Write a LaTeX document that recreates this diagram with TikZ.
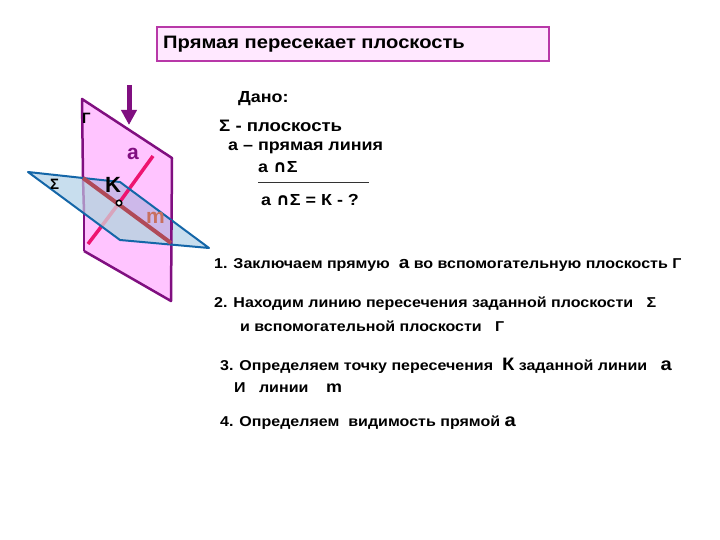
\documentclass[tikz,border=0pt]{standalone}
\usepackage{fontspec}
\setmainfont[FakeStretch=1.12]{Liberation Sans}
\newfontfamily\plainfont{Liberation Sans}
\newfontfamily\symfont{DejaVu Sans}
\usetikzlibrary{arrows.meta}
\definecolor{gpink}{HTML}{FFC4FF}
\definecolor{gedge}{HTML}{800F80}
\definecolor{sblue}{HTML}{C8DEEE}
\definecolor{sedge}{HTML}{1466A8}
\definecolor{sover}{HTML}{C4D0E6}
\definecolor{sback}{HTML}{CDB8EA}
\definecolor{mline}{HTML}{B04A58}
\definecolor{mtext}{HTML}{C87060}
\definecolor{aline}{HTML}{EE1470}
\definecolor{afade}{HTML}{D8A4BC}
\definecolor{titlefill}{HTML}{FFE8FF}
\definecolor{titleedge}{HTML}{B838A8}
\tikzset{x=1pt,y=-1pt,
 txt/.style={inner sep=0pt,anchor=base west,font=\fontsize{14.3}{16}\selectfont\bfseries,text=black},
 given/.style={txt,font=\fontsize{16}{18}\selectfont\bfseries},
 dlabel/.style={inner sep=0pt,anchor=base west,font=\plainfont\fontsize{21}{21}\selectfont\bfseries},
 planeedge/.style={line width=2.5pt,line join=round}}
\newcommand{\capm}{{\symfont\fontsize{17}{17}\selectfont ∩}}
\begin{document}
\begin{tikzpicture}
\useasboundingbox (0,0) rectangle (720,540);
\fill[white] (0,0) rectangle (720,540);
% coordinates
\coordinate (g1) at (82,99);
\coordinate (g2) at (172,158);
\coordinate (g3) at (171,301);
\coordinate (g4) at (84,251);
\coordinate (s1) at (28,172);
\coordinate (m1) at (83,178);
\coordinate (s2) at (120,182);
\coordinate (s3) at (209,248);
\coordinate (m2) at (171,243);
\coordinate (s4) at (120,240);
\coordinate (e1) at (84,213);
\coordinate (e2) at (171,220);
\coordinate (a1) at (153,156);
\coordinate (a2) at (88,244);
\coordinate (kk) at (119,203);
\coordinate (a3) at (101,227);
\coordinate (q1) at (129,85);
\coordinate (q2) at (129,125);
% title
\node[draw=titleedge,fill=titlefill,line width=2pt,minimum width=392pt,minimum height=34pt,inner sep=0pt,anchor=north west] (title) at (156,26) {};
\node[txt,font=\fontsize{18}{20}\selectfont\bfseries] (ttext) at (163,49) {Прямая пересекает плоскость};
% Gamma plane
\fill[gpink] (g1)--(g2)--(g3)--(g4)--cycle;
% Sigma plane
\fill[sblue] (s1)--(m1)--(s2)--(s3)--(s4)--cycle;
\fill[sback] (m1)--(s2)--(e2)--(m2)--cycle;
\fill[sover] (m1)--(m2)--(s4)--(e1)--cycle;
% Gamma edges
\draw[gedge,planeedge] (g4)--(g3)--(g2)--(g1)--(m1);
\draw[gedge!35!sover,line width=2.5pt] (m1)--(e1);
\draw[gedge,planeedge] (e1)--(g4);
% a line
\draw[aline,line width=3.5pt] (a1)--(kk);
\draw[afade,line width=3.5pt] (kk)--(a3);
\draw[aline,line width=3.5pt] (a3)--(a2);
% Sigma edges
\draw[sedge,line width=2pt,line join=round] (m1)--(s1)--(s4)--(s3)--(s2)--cycle;
\draw[gedge,line width=2.5pt] (e2)--(m2);
% m line
\draw[mline,line width=4pt] (m1)--(m2);
\node[draw=black,fill=white,circle,line width=1.5pt,minimum size=5.5pt,inner sep=0pt] (kpt) at (kk) {};
% arrow
\draw[gedge,line width=5pt,-{Triangle[length=15pt,width=15pt]}] (q1)--(q2);
% diagram labels
\node[dlabel,text=gedge] (la) at (127,160) {a};
\node[dlabel,font=\plainfont\fontsize{22}{22}\selectfont\bfseries] (lk) at (105,193) {K};
\node[dlabel,text=mtext] (lm) at (146,224) {m};
\node[dlabel,font=\plainfont\fontsize{15}{15}\selectfont\bfseries] (ls) at (50,190) {Σ};
\node[dlabel,font=\plainfont\fontsize{15}{15}\selectfont\bfseries] (lg) at (82,124) {Г};
% given
\node[given] (t1) at (238,103) {Дано:};
\node[given,font=\fontsize{16.6}{18}\selectfont\bfseries] (t2) at (219,132) {Σ - плоскость};
\node[given] (t3) at (228,151) {а – прямая линия};
\node[given] (t4) at (258,173) {а \capm Σ};
\coordinate (r1) at (258,182.5);
\coordinate (r2) at (369,182.5);
\draw[black!80,line width=0.7pt] (r1)--(r2);
\node[given] (t5) at (261,205.5) {а \capm Σ = К - ?};
% steps
\node[txt] (s1t) at (214,268) {1. Заключаем прямую\ \ {\fontsize{17}{17}\selectfont а} во вспомогательную плоскость Г};
\node[txt] (s2t) at (214,307) {2. Находим линию пересечения заданной плоскости\ \ \ Σ};
\node[txt] (s2b) at (240,331) {и вспомогательной плоскости\ \ \ Г};
\node[txt] (s3t) at (220,370) {3. Определяем точку пересечения\ \ {\fontsize{18}{18}\selectfont К} заданной линии\ \ \ {\fontsize{18}{18}\selectfont а}};
\node[txt] (s3b) at (234,392) {И\ \ \ линии\ \ \ \ {\fontsize{16}{16}\selectfont m}};
\node[txt] (s4t) at (220,426) {4. Определяем\ \ видимость прямой {\fontsize{18}{18}\selectfont а}};
\end{tikzpicture}
\end{document}
